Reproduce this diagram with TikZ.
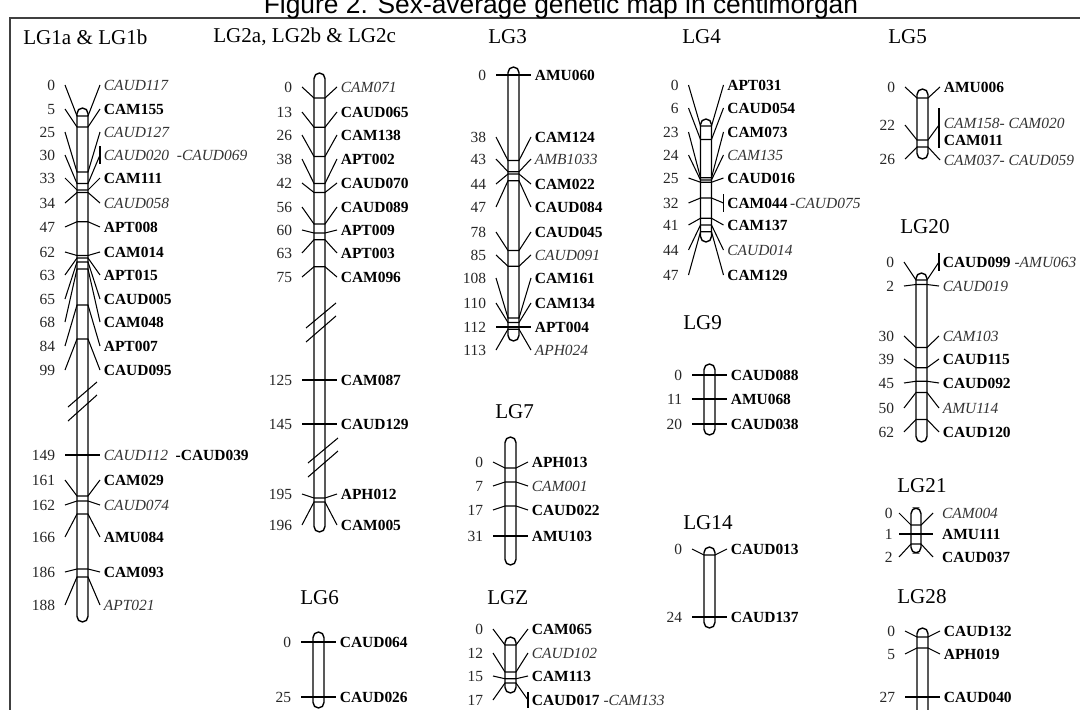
\documentclass[tikz,border=0pt]{standalone}
\usepackage{fontspec}
\setmainfont{Liberation Serif}
\newfontfamily\titlefont{Liberation Sans}
\usetikzlibrary{positioning,calc}

\begin{document}
\begin{tikzpicture}[x=0.02cm,y=-0.02cm,
  chrom/.style={draw,line width=0.8pt,rounded corners=0.11cm},
  cmpos/.style={anchor=east,inner xsep=5.5pt,inner ysep=0pt,text height=6pt,text depth=0pt,font=\fontsize{8.8}{10}\selectfont,text=black!85},
  mb/.style={anchor=west,inner xsep=2pt,inner ysep=0pt,text height=6pt,text depth=0pt,font=\fontsize{8.8}{10}\selectfont\bfseries},
  mi/.style={mb,font=\fontsize{8.8}{10}\selectfont\itshape,text=black!80},
  link/.style={line width=0.6pt},
  brk/.style={line width=0.6pt},
  lg/.style={anchor=west,inner sep=0pt,font=\fontsize{12}{14}\selectfont},
]
\useasboundingbox (0,0) rectangle (1080,710);
\fill[white] (0,0) rectangle (1080,710);

% Frame and title
\draw[line width=1.1pt,black!75] (10,710) |- (1080,18);
\node[anchor=base,inner sep=0pt,font=\titlefont\fontsize{15}{18}\selectfont] (title) at (561,13) {Figure 2. Sex-average genetic map in centimorgan};

% Group names
\node[lg] (h1)  at (23,37)  {LG1a \& LG1b};
\node[lg] (h2)  at (213,37) {LG2a, LG2b \& LG2c};
\node[lg] (h3)  at (488,37) {LG3};
\node[lg] (h4)  at (682,37) {LG4};
\node[lg] (h5)  at (888,37) {LG5};
\node[lg] (h6)  at (300,598) {LG6};
\node[lg] (h7)  at (495,412) {LG7};
\node[lg] (hz)  at (487,598) {LGZ};
\node[lg] (h9)  at (683,323) {LG9};
\node[lg] (h14) at (683,523) {LG14};
\node[lg] (h20) at (900,227) {LG20};
\node[lg] (h21) at (897,486) {LG21};
\node[lg] (h28) at (897,597) {LG28};

% LG1a & LG1b
\begin{scope}[shift={(82.5,0)}]
\draw[chrom] (-5.5,108) rectangle (5.5,622);
\foreach \p/\ly/\ty/\st/\txt [count=\i] in {
  0/85/116/mi/CAUD117, 5/109/127/mb/CAM155, 25/132/172/mi/CAUD127,
  30/155/183.5/mi/{CAUD020\ \ -CAUD069}, 33/178/190/mb/CAM111, 34/203/192.5/mi/CAUD058,
  47/227/221.75/mb/APT008, 62/252/255.5/mb/CAM014, 63/275/258/mb/APT015,
  65/299/262/mb/CAUD005, 68/322/269/mb/CAM048, 84/346/305/mb/APT007,
  99/370/339/mb/CAUD095, 149/455/455/mi/{CAUD112\ \ \textcolor{black}{\bfseries\upshape -CAUD039}},
  161/480/496/mb/CAM029, 162/505/501/mi/CAUD074, 166/537/514/mb/AMU084,
  186/572/569/mb/CAM093, 188/605/577/mi/APT021}{
  \node[cmpos] (a1-\i) at (-17.5,\ly) {\p};
  \node[\st] (b1-\i) at (17.5,\ly) {\txt};
  \draw[link] (a1-\i.east) -- (-5.5,\ty) -- (5.5,\ty) -- (b1-\i.west);
}
\draw[link] ($(b1-4.west)+(0,-9)$) -- ($(b1-4.west)+(0,9)$);
\draw[brk] (-14.5,407) -- (14.5,382) (-14.5,421) -- (14.5,395);
\end{scope}

% LG2a, LG2b & LG2c
\begin{scope}[shift={(319.5,0)}]
\draw[chrom] (-5.5,73) rectangle (5.5,532);
\foreach \p/\ly/\ty/\st/\txt [count=\i] in {
  0/87/98/mi/CAM071, 13/112/127.25/mb/CAUD065, 26/135/156.5/mb/CAM138,
  38/159/183.5/mb/APT002, 42/183/192.5/mb/CAUD070, 56/207/224/mb/CAUD089,
  60/230/233/mb/APT009, 63/253/239.75/mb/APT003, 75/277/266.75/mb/CAM096,
  125/380/380/mb/CAM087, 145/424/424/mb/CAUD129, 195/494/498/mb/APH012,
  196/525/502/mb/CAM005}{
  \node[cmpos] (a2-\i) at (-17.5,\ly) {\p};
  \node[\st] (b2-\i) at (17.5,\ly) {\txt};
  \draw[link] (a2-\i.east) -- (-5.5,\ty) -- (5.5,\ty) -- (b2-\i.west);
}
\draw[brk] (-13.5,328) -- (16.5,303) (-13.5,342) -- (16.5,316);
\draw[brk] (-11.5,463) -- (18.5,438) (-11.5,477) -- (18.5,451);
\end{scope}

% LG6
\begin{scope}[shift={(318.5,0)}]
\draw[chrom] (-5.5,632) rectangle (5.5,708);
\foreach \p/\ly/\ty/\st/\txt [count=\i] in {
  0/642/642/mb/CAUD064, 25/697/697/mb/CAUD026}{
  \node[cmpos] (a6-\i) at (-17.5,\ly) {\p};
  \node[\st] (b6-\i) at (17.5,\ly) {\txt};
  \draw[link] (a6-\i.east) -- (-5.5,\ty) -- (5.5,\ty) -- (b6-\i.west);
}
\end{scope}

% LG3
\begin{scope}[shift={(513.5,0)}]
\draw[chrom] (-5.5,67) rectangle (5.5,341);
\foreach \p/\ly/\ty/\st/\txt [count=\i] in {
  0/75/75/mb/AMU060, 38/137/160.5/mb/CAM124, 43/159/171.75/mi/AMB1033,
  44/184/174/mb/CAM022, 47/207/180.75/mb/CAUD084, 78/232/250.5/mb/CAUD045,
  85/255/266.25/mi/CAUD091, 108/278/318/mb/CAM161, 110/303/322.5/mb/CAM134,
  112/327/327/mb/APT004, 113/350/329.25/mi/APH024}{
  \node[cmpos] (a3-\i) at (-17.5,\ly) {\p};
  \node[\st] (b3-\i) at (17.5,\ly) {\txt};
  \draw[link] (a3-\i.east) -- (-5.5,\ty) -- (5.5,\ty) -- (b3-\i.west);
}
\end{scope}

% LG7
\begin{scope}[shift={(510.5,0)}]
\draw[chrom] (-5.5,437) rectangle (5.5,565);
\foreach \p/\ly/\ty/\st/\txt [count=\i] in {
  0/462/468/mb/APH013, 7/486/482/mi/CAM001, 17/510/506/mb/CAUD022,
  31/536/536/mb/AMU103}{
  \node[cmpos] (a7-\i) at (-17.5,\ly) {\p};
  \node[\st] (b7-\i) at (17.5,\ly) {\txt};
  \draw[link] (a7-\i.east) -- (-5.5,\ty) -- (5.5,\ty) -- (b7-\i.west);
}
\end{scope}

% LGZ
\begin{scope}[shift={(510.5,0)}]
\draw[chrom] (-5.5,637) rectangle (5.5,693);
\foreach \p/\ly/\ty/\st/\txt [count=\i] in {
  0/629/645/mb/CAM065, 12/653/672/mi/CAUD102, 15/676/678.75/mb/CAM113,
  17/700/683/mb/{CAUD017 \textcolor{black!80}{\mdseries\itshape -CAM133}}}{
  \node[cmpos] (az-\i) at (-17.5,\ly) {\p};
  \node[\st] (bz-\i) at (17.5,\ly) {\txt};
  \draw[link] (az-\i.east) -- (-5.5,\ty) -- (5.5,\ty) -- (bz-\i.west);
}
\draw[link] ($(bz-4.west)+(0,-8)$) -- ($(bz-4.west)+(0,8)$);
\end{scope}

% LG4
\begin{scope}[shift={(706,0)}]
\draw[chrom] (-5.5,119) rectangle (5.5,242);
\foreach \p/\ly/\ty/\st/\txt [count=\i] in {
  0/85/126/mb/APT031, 6/108/139.5/mb/CAUD054, 23/132/177.75/mb/CAM073,
  24/155/180/mi/CAM135, 25/178/182.25/mb/CAUD016,
  32/203/198/mb/{CAM044\,\textcolor{black!80}{\mdseries\itshape -CAUD075}},
  41/225/218.25/mb/CAM137, 44/250/225/mi/CAUD014, 47/275/231.75/mb/CAM129}{
  \node[cmpos] (a4-\i) at (-17.5,\ly) {\p};
  \node[\st] (b4-\i) at (17.5,\ly) {\txt};
  \draw[link] (a4-\i.east) -- (-5.5,\ty) -- (5.5,\ty) -- (b4-\i.west);
}
\draw[link] ($(b4-6.west)+(0,-9)$) -- ($(b4-6.west)+(0,9)$);
\end{scope}

% LG9
\begin{scope}[shift={(709.5,0)}]
\draw[chrom] (-5.5,364) rectangle (5.5,435);
\foreach \p/\ly/\ty/\st/\txt [count=\i] in {
  0/375/375/mb/CAUD088, 11/399/399/mb/AMU068, 20/424/424/mb/CAUD038}{
  \node[cmpos] (a9-\i) at (-17.5,\ly) {\p};
  \node[\st] (b9-\i) at (17.5,\ly) {\txt};
  \draw[link] (a9-\i.east) -- (-5.5,\ty) -- (5.5,\ty) -- (b9-\i.west);
}
\end{scope}

% LG14
\begin{scope}[shift={(709.5,0)}]
\draw[chrom] (-5.5,547) rectangle (5.5,628);
\foreach \p/\ly/\ty/\st/\txt [count=\i] in {
  0/549/555/mb/CAUD013, 24/617/617/mb/CAUD137}{
  \node[cmpos] (a14-\i) at (-17.5,\ly) {\p};
  \node[\st] (b14-\i) at (17.5,\ly) {\txt};
  \draw[link] (a14-\i.east) -- (-5.5,\ty) -- (5.5,\ty) -- (b14-\i.west);
}
\end{scope}

% LG5
\begin{scope}[shift={(922.5,0)}]
\draw[chrom] (-5.5,89) rectangle (5.5,159);
\node[cmpos] (a5-1) at (-17.5,87) {0};
\node[mb] (b5-1) at (17.5,87) {AMU006};
\draw[link] (a5-1.east) -- (-5.5,98) -- (5.5,98) -- (b5-1.west);
\node[cmpos] (a5-2) at (-17.5,125) {22};
\coordinate (k5) at (16.5,125);
\node[mi] (b5-2) at (17.5,123) {CAM158- CAM020};
\node[mb] (b5-3) at (17.5,140) {CAM011};
\draw[link] (a5-2.east) -- (-5.5,140) -- (5.5,140) -- (k5);
\draw[link] (16.5,108) -- (16.5,148);
\node[cmpos] (a5-4) at (-17.5,159) {26};
\node[mi] (b5-4) at (17.5,160) {CAM037- CAUD059};
\draw[link] (a5-4.east) -- (-5.5,147) -- (5.5,147) -- (b5-4.west);
\end{scope}

% LG20
\begin{scope}[shift={(921.5,0)}]
\draw[chrom] (-5.5,273) rectangle (5.5,442);
\foreach \p/\ly/\ty/\st/\txt [count=\i] in {
  0/262/280/mb/{CAUD099 \textcolor{black!80}{\mdseries\itshape -AMU063}},
  2/286/284.5/mi/CAUD019, 30/336/347.5/mi/CAM103, 39/359/367.75/mb/CAUD115,
  45/383/381.25/mb/CAUD092, 50/408/392.5/mi/AMU114, 62/432/419.5/mb/CAUD120}{
  \node[cmpos] (a20-\i) at (-17.5,\ly) {\p};
  \node[\st] (b20-\i) at (17.5,\ly) {\txt};
  \draw[link] (a20-\i.east) -- (-5.5,\ty) -- (5.5,\ty) -- (b20-\i.west);
}
\draw[link] ($(b20-1.west)+(0,-9)$) -- ($(b20-1.west)+(0,9)$);
\end{scope}

% LG21
\begin{scope}[shift={(916,0)}]
\draw[chrom] (-5,508) rectangle (5,553);
\foreach \p/\ly/\ty/\st/\txt [count=\i] in {
  0/513/525/mi/CAM004, 1/534/534/mb/AMU111, 2/557/544/mb/CAUD037}{
  \node[cmpos,inner xsep=3.5pt] (a21-\i) at (-17,\ly) {\p};
  \node[\st,inner xsep=5pt] (b21-\i) at (17,\ly) {\txt};
  \draw[link] (a21-\i.east) -- (-5,\ty) -- (5,\ty) -- (b21-\i.west);
}
\end{scope}

% LG28
\begin{scope}[shift={(922.5,0)}]
\draw[chrom] (-5.5,628) rectangle (5.5,716);
\foreach \p/\ly/\ty/\st/\txt [count=\i] in {
  0/631/637/mb/CAUD132, 5/654/648/mb/APH019, 27/697/697/mb/CAUD040}{
  \node[cmpos] (a28-\i) at (-17.5,\ly) {\p};
  \node[\st] (b28-\i) at (17.5,\ly) {\txt};
  \draw[link] (a28-\i.east) -- (-5.5,\ty) -- (5.5,\ty) -- (b28-\i.west);
}
\end{scope}

\end{tikzpicture}
\end{document}
